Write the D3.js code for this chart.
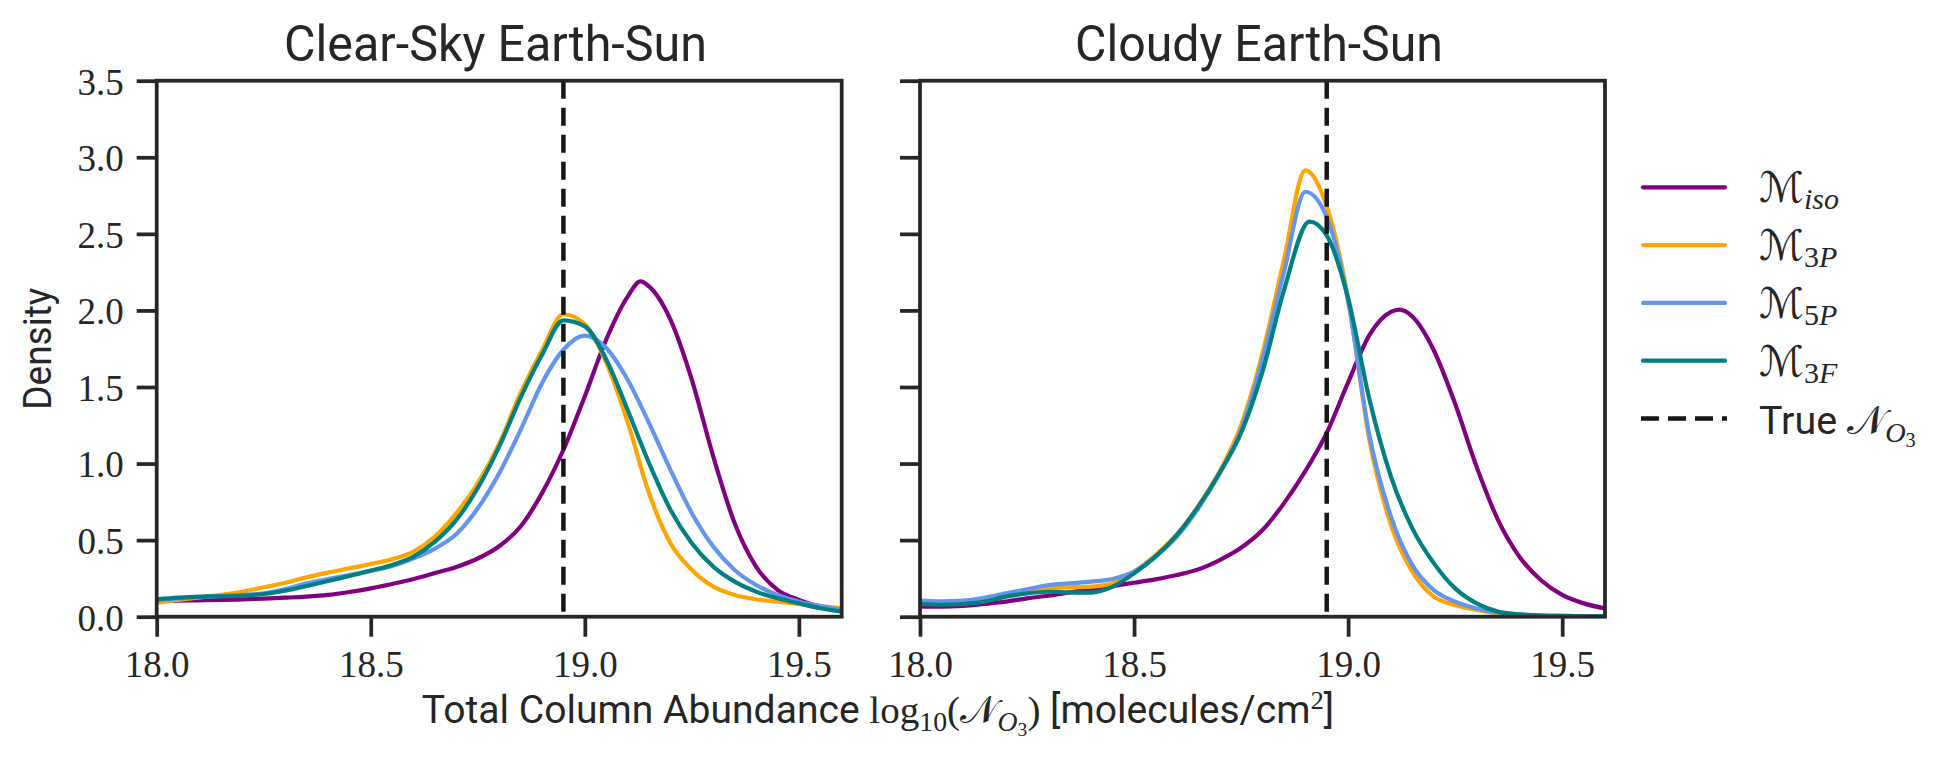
<!DOCTYPE html>
<html>
<head>
<meta charset="utf-8">
<script src="https://cdn.jsdelivr.net/npm/d3@7"></script>
<style>
  body { margin: 0; background: #ffffff; }
  svg { display: block; }
  text { white-space: pre; }
</style>
</head>
<body>
<svg width="1960" height="757"></svg>
<script>
/*------------------------
  ------ VARIABLES -------
  ------------------------*/

// input
var x_range = [18.0, 19.6];
var y_range = [0, 3.5];
var x_ticks = [18.0, 18.5, 19.0, 19.5];
var y_ticks = [0, 0.5, 1.0, 1.5, 2.0, 2.5, 3.0, 3.5];
var true_n_o3 = 18.95;
var titles = ["Clear-Sky Earth-Sun", "Cloudy Earth-Sun"];
var model_subs = ["iso", "3P", "5P", "3F"];
var model_colors = ["#800080", "#ffa500", "#6495ed", "#008080"];

// density curves, [log10 N, density]
var clear_iso = [[18.00,0.102],[18.05,0.105],[18.10,0.107],[18.15,0.109],[18.20,0.113],[18.25,0.118],
                 [18.30,0.124],[18.35,0.131],[18.40,0.142],[18.45,0.161],[18.50,0.185],[18.55,0.214],
                 [18.60,0.246],[18.65,0.285],[18.70,0.325],[18.75,0.38],[18.80,0.46],[18.85,0.589],
                 [18.90,0.807],[18.95,1.09],[19.00,1.44],[19.05,1.81],[19.10,2.09],[19.13,2.19],
                 [19.15,2.157],[19.20,1.94],[19.25,1.547],[19.30,1.046],[19.35,0.61],[19.40,0.327],
                 [19.45,0.175],[19.50,0.11],[19.55,0.066],[19.60,0.044]];
var clear_3p = [[18.00,0.092],[18.05,0.109],[18.10,0.126],[18.15,0.142],[18.20,0.163],[18.25,0.192],
                [18.30,0.222],[18.35,0.257],[18.40,0.288],[18.45,0.316],[18.50,0.344],[18.55,0.375],
                [18.60,0.425],[18.65,0.523],[18.70,0.676],[18.75,0.872],[18.80,1.13],[18.85,1.46],
                [18.90,1.74],[18.95,1.975],[19.00,1.91],[19.05,1.66],[19.10,1.27],[19.15,0.806],
                [19.20,0.48],[19.25,0.305],[19.30,0.197],[19.35,0.142],[19.40,0.114],[19.45,0.098],
                [19.50,0.083],[19.55,0.07],[19.60,0.055]];
var clear_5p = [[18.00,0.109],[18.05,0.118],[18.10,0.128],[18.15,0.135],[18.20,0.142],[18.25,0.152],
                [18.30,0.181],[18.35,0.218],[18.40,0.246],[18.45,0.272],[18.50,0.299],[18.55,0.331],
                [18.60,0.381],[18.65,0.445],[18.70,0.54],[18.75,0.708],[18.80,0.937],[18.85,1.22],
                [18.90,1.525],[18.95,1.743],[19.00,1.835],[19.05,1.754],[19.10,1.547],[19.15,1.264],
                [19.20,0.959],[19.25,0.676],[19.30,0.458],[19.35,0.305],[19.40,0.207],[19.45,0.142],
                [19.50,0.098],[19.55,0.07],[19.60,0.044]];
var clear_3f = [[18.00,0.113],[18.05,0.124],[18.10,0.131],[18.15,0.133],[18.20,0.137],[18.25,0.148],
                [18.30,0.17],[18.35,0.2],[18.40,0.233],[18.45,0.266],[18.50,0.301],[18.55,0.338],
                [18.60,0.392],[18.65,0.49],[18.70,0.632],[18.75,0.84],[18.80,1.11],[18.85,1.43],
                [18.90,1.71],[18.95,1.935],[19.00,1.896],[19.05,1.68],[19.10,1.35],[19.15,1.003],
                [19.20,0.698],[19.25,0.48],[19.30,0.327],[19.35,0.229],[19.40,0.164],[19.45,0.12],
                [19.50,0.087],[19.55,0.055],[19.60,0.033]];

var cloudy_iso = [[18.00,0.065],[18.05,0.065],[18.10,0.07],[18.15,0.083],[18.20,0.098],[18.25,0.12],
                  [18.30,0.137],[18.35,0.159],[18.40,0.179],[18.45,0.2],[18.50,0.222],[18.55,0.244],
                  [18.60,0.272],[18.65,0.309],[18.70,0.37],[18.75,0.45],[18.80,0.566],[18.85,0.74],
                  [18.90,0.95],[18.95,1.2],[19.00,1.53],[19.05,1.84],[19.10,1.99],[19.12,2.005],
                  [19.15,1.96],[19.20,1.74],[19.25,1.39],[19.30,0.98],[19.35,0.632],[19.40,0.392],
                  [19.45,0.24],[19.50,0.142],[19.55,0.087],[19.60,0.054]];
var cloudy_3p = [[18.00,0.094],[18.05,0.094],[18.10,0.094],[18.15,0.11],[18.20,0.137],[18.25,0.163],
                 [18.30,0.185],[18.35,0.192],[18.40,0.196],[18.45,0.218],[18.50,0.294],[18.55,0.403],
                 [18.60,0.538],[18.65,0.723],[18.70,0.95],[18.75,1.25],[18.80,1.72],[18.85,2.33],
                 [18.90,2.915],[18.95,2.68],[19.00,2.08],[19.05,1.15],[19.10,0.60],[19.15,0.294],
                 [19.20,0.131],[19.25,0.076],[19.30,0.044],[19.35,0.022],[19.40,0.012],[19.45,0.007],
                 [19.50,0.004],[19.55,0.003],[19.60,0.002]];
var cloudy_5p = [[18.00,0.105],[18.05,0.10],[18.10,0.105],[18.15,0.124],[18.20,0.152],[18.25,0.179],
                 [18.30,0.207],[18.35,0.218],[18.40,0.229],[18.45,0.246],[18.50,0.294],[18.55,0.392],
                 [18.60,0.523],[18.65,0.708],[18.70,0.937],[18.75,1.22],[18.80,1.68],[18.85,2.25],
                 [18.90,2.775],[18.95,2.61],[19.00,2.06],[19.05,1.18],[19.10,0.654],[19.15,0.337],
                 [19.20,0.174],[19.25,0.098],[19.30,0.054],[19.35,0.028],[19.40,0.015],[19.45,0.008],
                 [19.50,0.005],[19.55,0.004],[19.60,0.003]];
var cloudy_3f = [[18.00,0.083],[18.05,0.078],[18.10,0.083],[18.15,0.098],[18.20,0.131],[18.25,0.152],
                 [18.30,0.163],[18.35,0.159],[18.40,0.157],[18.45,0.196],[18.50,0.283],[18.55,0.392],
                 [18.60,0.534],[18.65,0.719],[18.70,0.94],[18.75,1.2],[18.80,1.6],[18.85,2.13],
                 [18.91,2.58],[18.95,2.49],[19.00,2.08],[19.05,1.416],[19.10,0.915],[19.15,0.577],
                 [19.20,0.35],[19.25,0.185],[19.30,0.087],[19.35,0.033],[19.40,0.015],[19.45,0.008],
                 [19.50,0.005],[19.55,0.003],[19.60,0.002]];

var panel_series = [[clear_iso, clear_3p, clear_5p, clear_3f],
                    [cloudy_iso, cloudy_3p, cloudy_5p, cloudy_3f]];

// display
var plot = {top: 80.7, bottom: 616.7, width: 685, lefts: [156.7, 920]};
var title_box = [{cx: 495.5, w: 423}, {cx: 1259, w: 368}];
var title_y = 60.7;
var ink = "#262626";
var line_w = 4.2;
var spine_w = 3.75;
var tick_len = 20;
var serif = "'Liberation Serif', 'DejaVu Serif', serif";
var sans = "Roboto, 'Liberation Sans', 'DejaVu Sans', sans-serif";
var mathcal = "'DejaVu Serif', 'DejaVu Sans', serif";
var legend = {x0: 1643, x1: 1725, top: 187.3, step: 57.8, txt_x: 1759};
var dash = "18,9";

var svg = d3.select("svg");


/*---------------------
  ---- TEXT HELPERS ---
  ---------------------*/

// text made of pieces, each piece may be shifted down (sub) or up (sup)
function rich_text(parent, parts) {
    var t = parent.append("text").attr("fill", ink);
    var cur = 0;
    parts.forEach(function(p) {
        var sh = p.shift || 0;
        t.append("tspan")
            .attr("dy", sh - cur)
            .attr("font-family", p.font)
            .attr("font-size", p.size)
            .attr("font-style", p.italic ? "italic" : "normal")
            .text(p.t);
        cur = sh;
    });
    return t;
}

function fit_width(t, x, y, target, anchor, rot) {
    t.attr("text-anchor", anchor);
    var w = t.node().getBBox().width;
    t.attr("transform", "translate(" + x + "," + y + ")" + (rot ? " rotate(" + rot + ")" : "")
           + " scale(" + (target / w) + ",1)");
}


/*---------------------
  --- DISPLAY PANEL ---
  ---------------------*/

function draw_panel(i) {
    var left = plot.lefts[i];
    var xs = d3.scaleLinear().domain(x_range).range([left, left + plot.width]);
    var ys = d3.scaleLinear().domain(y_range).range([plot.bottom, plot.top]);
    var g = svg.append("g").attr("class", "panel");

    g.append("clipPath").attr("id", "clip" + i)
        .append("rect")
        .attr("x", left).attr("y", plot.top)
        .attr("width", plot.width).attr("height", plot.bottom - plot.top);

    var line = d3.line()
        .x(function(d) { return xs(d[0]); })
        .y(function(d) { return ys(d[1]); })
        .curve(d3.curveMonotoneX);

    var lines = g.append("g").attr("clip-path", "url(#clip" + i + ")");
    lines.selectAll(".kde")
        .data(panel_series[i])
        .enter()
        .append("path")
        .attr("class", "kde")
        .attr("d", line)
        .attr("fill", "none")
        .attr("stroke", function(d, k) { return model_colors[k]; })
        .attr("stroke-width", line_w)
        .attr("stroke-linejoin", "round");

    lines.append("line")
        .attr("x1", xs(true_n_o3)).attr("x2", xs(true_n_o3))
        .attr("y1", plot.top).attr("y2", plot.bottom)
        .attr("stroke", "#161616")
        .attr("stroke-width", 4.5)
        .attr("stroke-dasharray", dash);

    // axes
    var gx = g.append("g")
        .attr("transform", "translate(0," + plot.bottom + ")")
        .call(d3.axisBottom(xs).tickValues(x_ticks).tickSize(tick_len)
              .tickPadding(14).tickFormat(d3.format(".1f")));
    var gy = g.append("g")
        .attr("transform", "translate(" + left + ",0)")
        .call(d3.axisLeft(ys).tickValues(y_ticks).tickSize(tick_len)
              .tickPadding(13).tickFormat(i == 0 ? d3.format(".1f") : function() { return ""; }));
    [gx, gy].forEach(function(ax) {
        ax.select(".domain").remove();
        ax.selectAll(".tick line").attr("stroke", ink).attr("stroke-width", spine_w);
        ax.selectAll(".tick text")
            .attr("font-family", serif)
            .attr("font-size", 37)
            .attr("fill", ink);
    });
    gy.selectAll(".tick text").attr("dy", "0.36em");

    // spines
    g.append("rect")
        .attr("x", left).attr("y", plot.top)
        .attr("width", plot.width).attr("height", plot.bottom - plot.top)
        .attr("fill", "none")
        .attr("stroke", ink)
        .attr("stroke-width", spine_w);

    var tt = g.append("text")
        .attr("font-family", sans)
        .attr("font-size", 50)
        .attr("fill", ink)
        .text(titles[i]);
    fit_width(tt, title_box[i].cx, title_y, title_box[i].w, "middle");
}


/*---------------------
  ---- LABELS, KEY ----
  ---------------------*/

function draw_labels() {
    var yl = svg.append("text")
        .attr("font-family", sans)
        .attr("font-size", 39)
        .attr("fill", ink)
        .text("Density");
    fit_width(yl, 51, 348.7, 122, "middle", -90);

    var xl = rich_text(svg, [
        {t: "Total Column Abundance ", font: sans, size: 38},
        {t: "log", font: serif, size: 38},
        {t: "10", font: serif, size: 27, shift: 8},
        {t: "(", font: serif, size: 38},
        {t: "\u{1D4A9}", font: mathcal, size: 38},
        {t: "O", font: serif, size: 27, italic: true, shift: 8},
        {t: "3", font: serif, size: 19, shift: 13},
        {t: ")", font: serif, size: 38},
        {t: " [molecules/cm", font: sans, size: 38},
        {t: "2", font: serif, size: 26, shift: -14},
        {t: "]", font: sans, size: 38}
    ]);
    fit_width(xl, 878, 723, 912, "middle");
}

function draw_legend() {
    var lg = svg.append("g").attr("class", "legend");
    model_subs.forEach(function(s, k) {
        var y = legend.top + k * legend.step;
        lg.append("line")
            .attr("x1", legend.x0).attr("x2", legend.x1)
            .attr("y1", y).attr("y2", y)
            .attr("stroke", model_colors[k])
            .attr("stroke-width", line_w)
            .attr("stroke-linecap", "round");
        var parts = [{t: "\u2133", font: mathcal, size: 42}];
        if (s == "iso") {
            parts.push({t: "iso", font: serif, size: 30, italic: true, shift: 7});
        } else {
            parts.push({t: s[0], font: serif, size: 30, shift: 7});
            parts.push({t: s[1], font: serif, size: 30, italic: true, shift: 7});
        }
        rich_text(lg, parts)
            .attr("x", legend.txt_x)
            .attr("y", y + 15);
    });

    var y = legend.top + 4 * legend.step;
    lg.append("line")
        .attr("x1", legend.x0 - 2).attr("x2", legend.x1 + 2)
        .attr("y1", y).attr("y2", y)
        .attr("stroke", "#161616")
        .attr("stroke-width", 4.5)
        .attr("stroke-dasharray", dash);
    var tn = rich_text(lg, [
        {t: "True ", font: sans, size: 39},
        {t: "\u{1D4A9}", font: mathcal, size: 40},
        {t: "O", font: serif, size: 28, italic: true, shift: 8},
        {t: "3", font: serif, size: 20, shift: 13}
    ]);
    fit_width(tn, legend.txt_x, y + 15, 157, "start");
}

/*------------------
  ------ RUN -------
  ------------------*/

draw_panel(0);
draw_panel(1);
draw_labels();
draw_legend();
</script>
</body>
</html>
